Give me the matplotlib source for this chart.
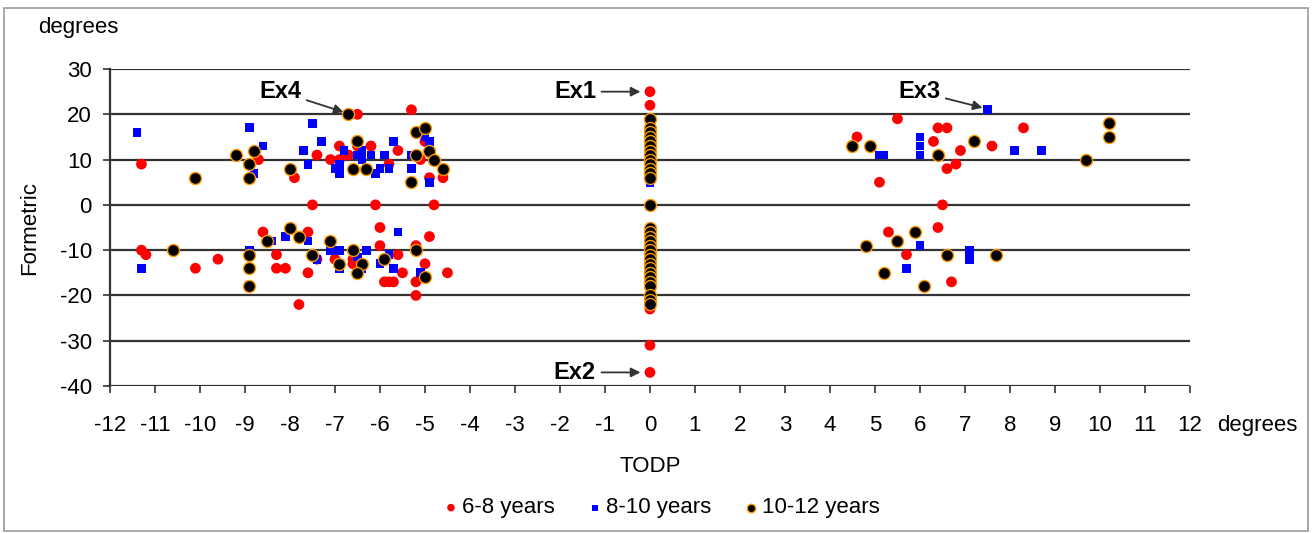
import matplotlib
matplotlib.use("Agg")
import matplotlib.pyplot as plt
from matplotlib.patches import Rectangle

plt.rcParams['font.family'] = ['Liberation Sans', 'DejaVu Sans']
plt.rcParams['axes.unicode_minus'] = False

# 6-8 years (red circles)
red_x = [-11.3, -8.7, -7.9, -6.5, -5.3, -7.4, -7.1, -6.9, -6.9, -6.7, -6.5, -6.2, -5.8, -5.6,
         -5.1, -5.0, -4.9, -4.6, -7.5, -6.1, -4.8,
         -11.3, -11.2, -10.1, -9.6, -8.6, -8.3, -8.3, -8.1, -7.8, -7.6, -7.4, -7.6, -6.0, -6.0,
         -4.9, -7.0, -6.6, -6.6, -5.6, -5.5, -5.9, -5.8, -5.7, -5.2, -5.0, -5.2, -5.2, -4.5,
         0, 0, 0, 0, 0, 0, 0,
         5.5, 4.6, 6.4, 6.6, 6.3, 6.9, 6.8, 6.6, 5.1, 6.5, 8.3, 7.6,
         5.3, 6.4, 5.7, 6.7]
red_y = [9, 10, 6, 20, 21, 11, 10, 13, 10, 11, 13, 13, 9, 12,
         10, 14, 6, 6, 0, 0, 0,
         -10, -11, -14, -12, -6, -11, -14, -14, -22, -6, -12, -15, -5, -9,
         -7, -12, -12, -13, -11, -15, -17, -17, -17, -9, -13, -17, -20, -15,
         25, 22, 17, 6, -23, -31, -37,
         19, 15, 17, 17, 14, 12, 9, 8, 5, 0, 17, 13,
         -6, -5, -11, -17]

# 8-10 years (blue squares)
blue_x = [-11.4, -8.9, -8.6, -8.8, -7.5, -7.3, -7.7, -7.6, -7.0, -6.9, -6.9, -6.8, -6.4, -6.5,
          -6.4, -6.2, -6.0, -6.1, -5.9, -5.8, -5.7, -5.3, -5.3, -5.0, -4.9, -4.9,
          -11.3, -8.9, -8.4, -8.1, -7.6, -7.1, -6.9, -7.4, -5.6, -6.3, -6.5, -6.9, -6.4,
          -5.8, -6.0, -5.7, -5.1,
          0, 0, 0,
          7.5, 5.1, 5.2, 6.0, 6.0, 6.0, 8.1, 8.7,
          6.0, 5.7, 7.1, 7.1]
blue_y = [16, 17, 13, 7, 18, 14, 12, 9, 8, 7, 9, 12, 12, 11,
          10, 11, 8, 7, 11, 8, 14, 8, 11, 15, 14, 5,
          -14, -10, -8, -7, -8, -10, -10, -12, -6, -10, -11.5, -14, -14,
          -11, -13, -14, -15,
          18, 17, 5,
          21, 11, 11, 15, 13, 11, 12, 12,
          -9, -14, -10, -12]

# 10-12 years (black circles)
black_x = [-10.1, -9.2, -8.8, -8.9, -8.9, -8.0, -6.7, -6.5, -6.6, -6.3, -5.3, -5.2, -5.2, -5.0,
           -4.9, -4.8, -4.6,
           -10.6, -8.9, -8.9, -8.9, -8.5, -8.0, -7.8, -7.1, -7.5, -6.6, -6.9, -6.4, -6.5, -5.9,
           -5.2, -5.0,
           0, 0, 0, 0, 0, 0, 0, 0, 0, 0, 0, 0, 0, 0,
           0, 0, 0, 0, 0, 0, 0, 0, 0, 0, 0, 0, 0, 0, 0, 0, 0,
           4.5, 4.9, 6.4, 7.2, 10.2, 10.2, 9.7,
           4.8, 5.5, 5.9, 5.2, 6.1, 6.6, 7.7]
black_y = [6, 11, 12, 9, 6, 8, 20, 14, 8, 8, 5, 11, 16, 17,
           12, 10, 8,
           -10, -11, -14, -18, -8, -5, -7, -8, -11, -10, -13, -13, -15, -12,
           -10, -16,
           19, 17, 16, 15, 14, 13, 12, 11, 10, 9, 8, 7, 6, 0,
           -5, -6, -7, -8, -9, -10, -11, -12, -13, -14, -15, -16, -17, -18, -20, -21, -22,
           13, 13, 11, 14, 18, 15, 10,
           -9, -8, -6, -15, -18, -11, -11]

x_ticks = list(range(-12, 13))
y_ticks = list(range(-40, 31, 10))

fs = 16

fig = plt.figure(figsize=(13.12, 5.33), dpi=100)
fig.patches.append(Rectangle((0.003, 0.003), 0.994, 0.982, transform=fig.transFigure,
                             fill=False, edgecolor='#9a9a9a', linewidth=1.2))
ax = fig.add_axes([0.0838, 0.2758, 0.8232, 0.5947])

for yv in y_ticks:
    ax.axhline(yv, color='#333333', linewidth=1.6, zorder=1)

ax.scatter(red_x, red_y, s=60, marker='o', color='#ff0000', edgecolors='none', zorder=3,
           label='6-8 years')
ax.scatter(blue_x, blue_y, s=40, marker='s', color='#0000ff', edgecolors='none', zorder=4,
           label='8-10 years')
ax.scatter(black_x, black_y, s=75, marker='o', color='black', edgecolors='#ff9900',
           linewidths=1.0, zorder=5, label='10-12 years')

ax.set_xlim(-12, 12)
ax.set_ylim(-40, 30)
ax.set_xticks(x_ticks)
ax.set_yticks(y_ticks)
ax.tick_params(axis='both', labelsize=fs, length=5, width=1.2, color='#333333')
ax.tick_params(axis='x', pad=16)
ax.tick_params(axis='y', pad=8)
for s in ['top', 'right', 'bottom']:
    ax.spines[s].set_visible(False)
ax.spines['left'].set_linewidth(1.6)
ax.spines['left'].set_color('#333333')

ax.set_xlabel('TODP', fontsize=fs, labelpad=14)
ax.set_ylabel('Formetric', fontsize=fs, labelpad=14)
fig.text(38 / 1312, 1 - 28 / 533, 'degrees', fontsize=fs, ha='left', va='center')
fig.text(1217 / 1312, 1 - 431 / 533, 'degrees', fontsize=fs, ha='left', va='baseline')

arrow = dict(arrowstyle='-|>', color='#333333', lw=1.3, mutation_scale=14)
ax.annotate('Ex1', xy=(-0.15, 25), xytext=(-1.2, 25), fontsize=17, fontweight='bold',
            ha='right', va='center', arrowprops=arrow)
ax.annotate('Ex2', xy=(-0.15, -37), xytext=(-1.2, -37), fontsize=17, fontweight='bold',
            ha='right', va='center', arrowprops=arrow)
ax.annotate('Ex3', xy=(7.45, 21.3), xytext=(6.45, 25), fontsize=17, fontweight='bold',
            ha='right', va='center', arrowprops=arrow)
ax.annotate('Ex4', xy=(-6.75, 20.3), xytext=(-7.75, 25), fontsize=17, fontweight='bold',
            ha='right', va='center', arrowprops=arrow)

fig.legend(loc='center', bbox_to_anchor=(0.503, 0.047), ncol=3, frameon=False,
           fontsize=fs, handletextpad=0.0, columnspacing=1.3, markerscale=0.7,
           handlelength=1.0)

fig.savefig('out.png', dpi=100)
